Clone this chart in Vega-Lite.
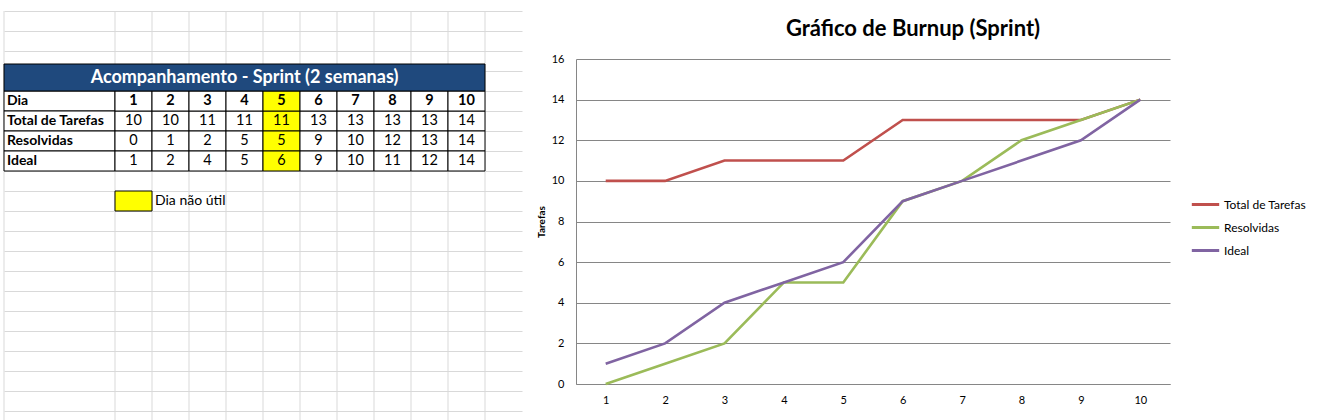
{
  "$schema": "https://vega.github.io/schema/vega-lite/v6.json",
  "background": "white",
  "padding": {"left": 3, "top": 0, "right": 0, "bottom": 0},
  "config": {
    "font": "Lato",
    "view": {"stroke": null, "fill": "white"}
  },
  "datasets": {
    "burnup": [
      {"dia": 1, "serie": "Total de Tarefas", "tarefas": 10},
      {"dia": 2, "serie": "Total de Tarefas", "tarefas": 10},
      {"dia": 3, "serie": "Total de Tarefas", "tarefas": 11},
      {"dia": 4, "serie": "Total de Tarefas", "tarefas": 11},
      {"dia": 5, "serie": "Total de Tarefas", "tarefas": 11},
      {"dia": 6, "serie": "Total de Tarefas", "tarefas": 13},
      {"dia": 7, "serie": "Total de Tarefas", "tarefas": 13},
      {"dia": 8, "serie": "Total de Tarefas", "tarefas": 13},
      {"dia": 9, "serie": "Total de Tarefas", "tarefas": 13},
      {"dia": 10, "serie": "Total de Tarefas", "tarefas": 14},
      {"dia": 1, "serie": "Resolvidas", "tarefas": 0},
      {"dia": 2, "serie": "Resolvidas", "tarefas": 1},
      {"dia": 3, "serie": "Resolvidas", "tarefas": 2},
      {"dia": 4, "serie": "Resolvidas", "tarefas": 5},
      {"dia": 5, "serie": "Resolvidas", "tarefas": 5},
      {"dia": 6, "serie": "Resolvidas", "tarefas": 9},
      {"dia": 7, "serie": "Resolvidas", "tarefas": 10},
      {"dia": 8, "serie": "Resolvidas", "tarefas": 12},
      {"dia": 9, "serie": "Resolvidas", "tarefas": 13},
      {"dia": 10, "serie": "Resolvidas", "tarefas": 14},
      {"dia": 1, "serie": "Ideal", "tarefas": 1},
      {"dia": 2, "serie": "Ideal", "tarefas": 2},
      {"dia": 3, "serie": "Ideal", "tarefas": 4},
      {"dia": 4, "serie": "Ideal", "tarefas": 5},
      {"dia": 5, "serie": "Ideal", "tarefas": 6},
      {"dia": 6, "serie": "Ideal", "tarefas": 9},
      {"dia": 7, "serie": "Ideal", "tarefas": 10},
      {"dia": 8, "serie": "Ideal", "tarefas": 11},
      {"dia": 9, "serie": "Ideal", "tarefas": 12},
      {"dia": 10, "serie": "Ideal", "tarefas": 14}
    ],
    "linhas": [
      {"linha": "Dia"},
      {"linha": "Total de Tarefas"},
      {"linha": "Resolvidas"},
      {"linha": "Ideal"}
    ],
    "colunas": [
      {"coluna": -2}, {"coluna": 1}, {"coluna": 2}, {"coluna": 3}, {"coluna": 4}, {"coluna": 5},
      {"coluna": 6}, {"coluna": 7}, {"coluna": 8}, {"coluna": 9}, {"coluna": 10}, {"coluna": 11}
    ],
    "titulo": [{"titulo": "Acompanhamento - Sprint (2 semanas)"}],
    "legenda": [{"rotulo": "Dia não útil"}]
  },
  "spacing": 14,
  "hconcat": [
    {
      "width": 518,
      "height": 372,
      "layer": [
        {
          "data": {"name": "colunas"},
          "mark": {"type": "rule", "color": "#D9D9D9", "strokeWidth": 1},
          "encoding": {
            "x": {"field": "coluna", "type": "ordinal", "bandPosition": 0, "scale": {"domain": [-2, -1, 0, 1, 2, 3, 4, 5, 6, 7, 8, 9, 10, 11], "paddingInner": 0, "paddingOuter": 0}, "axis": null},
            "y": {"datum": "r0", "type": "ordinal", "bandPosition": 0, "scale": {"domain": ["r0","r1","r2","T","Dia","Total de Tarefas","Resolvidas","Ideal","r8","Leg","r10","r11","r12","r13","r14","r15","r16","r17","r18","r19","r20"], "range": [-48, 372], "paddingInner": 0, "paddingOuter": 0}, "axis": {"grid": true, "gridColor": "#D9D9D9", "labels": false, "ticks": false, "domain": false, "title": null, "bandPosition": 0, "zindex": 0}},
            "y2": {"datum": "r20", "bandPosition": 1}
          }
        },
        {
          "data": {"name": "linhas"},
          "mark": {"type": "rect", "fill": "white", "stroke": "black", "strokeWidth": 1, "zindex": 1},
          "encoding": {
            "x": {"datum": -2, "type": "ordinal", "bandPosition": 0},
            "x2": {"datum": 0, "bandPosition": 1},
            "y": {"field": "linha", "type": "ordinal"}
          }
        },
        {
          "data": {"name": "burnup"},
          "mark": {"type": "rect", "stroke": "black", "strokeWidth": 1, "zindex": 1},
          "encoding": {
            "x": {"field": "dia", "type": "ordinal"},
            "y": {"field": "serie", "type": "ordinal"},
            "fill": {"condition": {"test": "datum.dia == 5", "value": "#FFFF00"}, "value": "white"}
          }
        },
        {
          "data": {"name": "burnup"},
          "transform": [{"filter": "datum.serie == 'Ideal'"}],
          "mark": {"type": "rect", "stroke": "black", "strokeWidth": 1, "zindex": 1},
          "encoding": {
            "x": {"field": "dia", "type": "ordinal"},
            "y": {"datum": "Dia", "type": "ordinal"},
            "fill": {"condition": {"test": "datum.dia == 5", "value": "#FFFF00"}, "value": "white"}
          }
        },
        {
          "data": {"name": "titulo"},
          "mark": {"type": "rect", "fill": "#1F497D", "stroke": "black", "strokeWidth": 1, "zindex": 1},
          "encoding": {
            "x": {"datum": -2, "type": "ordinal", "bandPosition": 0},
            "x2": {"datum": 10, "bandPosition": 1},
            "y": {"datum": "r2", "type": "ordinal", "bandPosition": 0.65},
            "y2": {"datum": "T", "bandPosition": 1}
          }
        },
        {
          "data": {"name": "titulo"},
          "mark": {"type": "text", "fill": "white", "fontWeight": "bold", "fontSize": 18, "zindex": 2},
          "encoding": {
            "x": {"datum": 4, "type": "ordinal"},
            "y": {"datum": "T", "type": "ordinal", "bandPosition": 0.33},
            "text": {"field": "titulo"}
          }
        },
        {
          "data": {"name": "linhas"},
          "mark": {"type": "text", "align": "left", "dx": 3, "fontWeight": "bold", "fontSize": 14, "fill": "black", "zindex": 2},
          "encoding": {
            "x": {"datum": -2, "type": "ordinal", "bandPosition": 0},
            "y": {"field": "linha", "type": "ordinal"},
            "text": {"field": "linha"}
          }
        },
        {
          "data": {"name": "burnup"},
          "mark": {"type": "text", "fontSize": 14.5, "fill": "black", "zindex": 2},
          "encoding": {
            "x": {"field": "dia", "type": "ordinal"},
            "y": {"field": "serie", "type": "ordinal"},
            "text": {"field": "tarefas"}
          }
        },
        {
          "data": {"name": "burnup"},
          "transform": [{"filter": "datum.serie == 'Ideal'"}],
          "mark": {"type": "text", "fontSize": 14.5, "fontWeight": "bold", "fill": "black", "zindex": 2},
          "encoding": {
            "x": {"field": "dia", "type": "ordinal"},
            "y": {"datum": "Dia", "type": "ordinal"},
            "text": {"field": "dia"}
          }
        },
        {
          "data": {"name": "legenda"},
          "mark": {"type": "rect", "fill": "#FFFF00", "stroke": "black", "strokeWidth": 1, "zindex": 1},
          "encoding": {
            "x": {"datum": 1, "type": "ordinal"},
            "y": {"datum": "Leg", "type": "ordinal"}
          }
        },
        {
          "data": {"name": "legenda"},
          "mark": {"type": "text", "align": "left", "dx": 3, "fontSize": 14, "fill": "black", "zindex": 2},
          "encoding": {
            "x": {"datum": 2, "type": "ordinal", "bandPosition": 0},
            "y": {"datum": "Leg", "type": "ordinal"},
            "text": {"field": "rotulo"}
          }
        }
      ]
    },
    {
      "width": 594,
      "height": 325,
      "data": {"name": "burnup"},
      "title": {"text": ["", "Gráfico de Burnup (Sprint)"], "fontSize": 22, "lineHeight": 18, "fontWeight": "bold", "color": "black", "anchor": "middle", "dx": 40, "offset": 12},
      "mark": {"type": "line", "strokeWidth": 2.6},
      "encoding": {
        "x": {"field": "dia", "type": "ordinal", "axis": {"title": null, "labelAngle": 0, "ticks": false, "domainColor": "#868686", "labelPadding": 10, "labelFontSize": 11, "labelColor": "black"}},
        "y": {"field": "tarefas", "type": "quantitative", "scale": {"domain": [0, 16], "nice": false}, "axis": {"values": [0, 2, 4, 6, 8, 10, 12, 14, 16], "title": "Tarefas", "titleFontSize": 10, "titleFontWeight": "bold", "titleColor": "black", "titlePadding": 5, "gridColor": "#868686", "domainColor": "#868686", "ticks": false, "labelPadding": 12, "labelFontSize": 11, "labelColor": "black"}},
        "color": {"field": "serie", "type": "nominal", "scale": {"domain": ["Total de Tarefas", "Resolvidas", "Ideal"], "range": ["#C0504D", "#9BBB59", "#8064A2"]}, "legend": {"title": null, "orient": "right", "offset": -110, "padding": 130, "symbolType": "stroke", "symbolSize": 750, "symbolStrokeWidth": 3, "labelFontSize": 12, "labelColor": "black", "labelOffset": 3, "rowPadding": 1}}
      }
    }
  ]
}
